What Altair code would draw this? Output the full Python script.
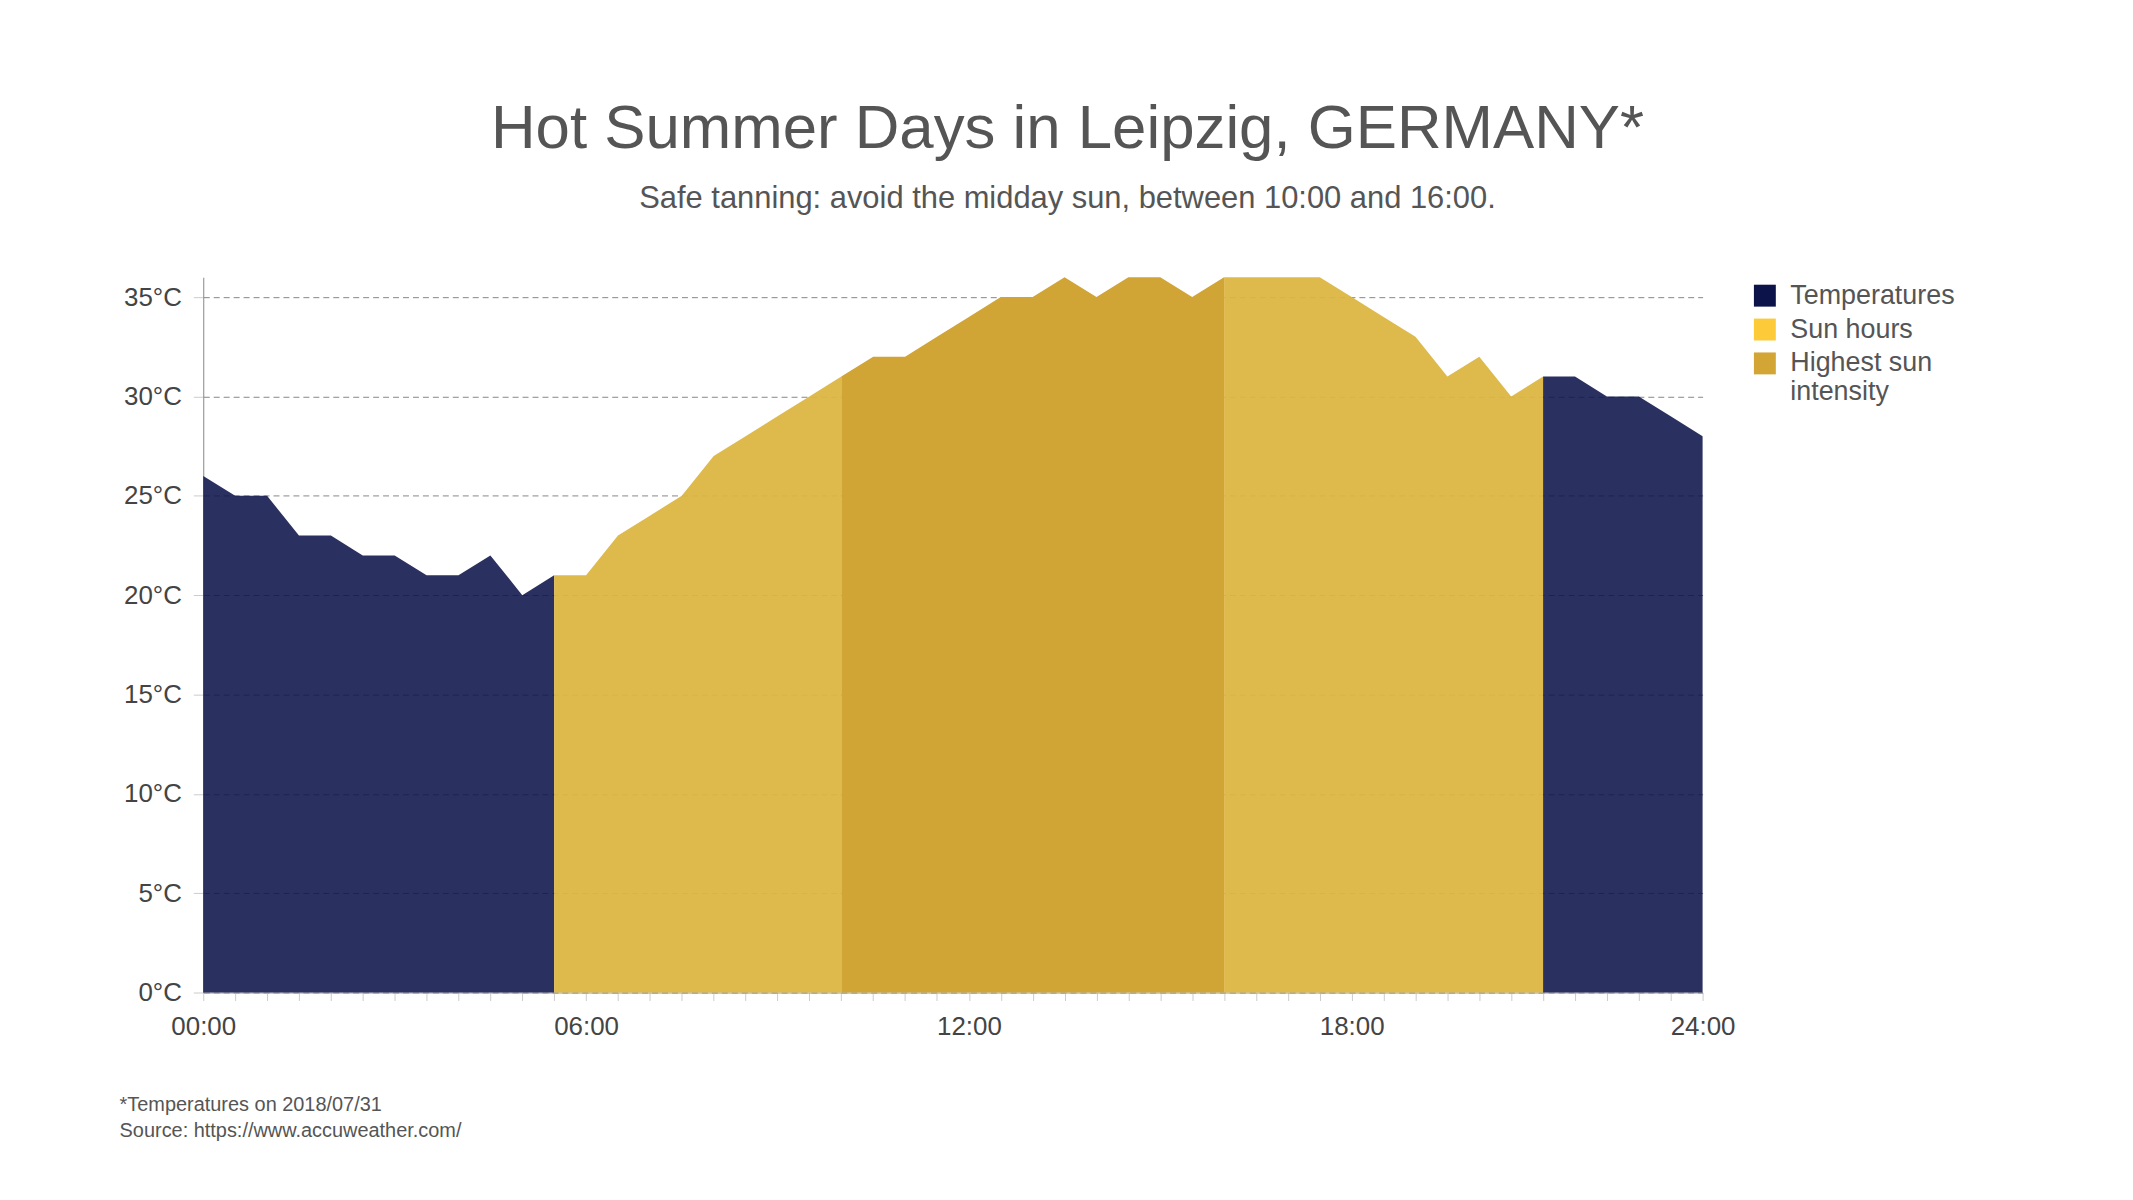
import altair as alt
import pandas as pd

# temperature every 30 minutes, 00:00 .. 23:30
hours = [h / 2 for h in range(48)]
temps = [26, 25, 25, 23, 23, 22, 22, 21, 21, 22, 20, 21,
         21, 23, 24, 25, 27, 28, 29, 30, 31, 32, 32, 33,
         34, 35, 35, 36, 35, 36, 36, 35, 36, 36, 36, 36,
         35, 34, 33, 31, 32, 30, 31, 31, 30, 30, 29, 28]

# coloured bands of the day
segment_series = ['Temperatures', 'Sun hours', 'Highest sun intensity', 'Sun hours', 'Temperatures']
segment_start = [0, 5.5, 10, 16, 21]
segment_end = [5.5, 10, 16, 21, 23.5]

series_names = ['Temperatures', 'Sun hours', 'Highest sun intensity']
area_colors = ['#0c134a', '#dcb541', '#d0a535']
legend_colors = ['#0c134a', '#fdcb3a', '#d3a535']

footnotes = ['*Temperatures on 2018/07/31', 'Source: https://www.accuweather.com/']

rows = []
for i, (name, start, end) in enumerate(zip(segment_series, segment_start, segment_end)):
    for h, t in zip(hours, temps):
        if start <= h <= end:
            rows.append({'segment': i, 'series': name, 'hour': h, 'temp': t})
df = pd.DataFrame(rows)

x_label = ("datum.value == 23.5 ? '24:00' : (datum.value % 6 == 0 ? "
           "(datum.value < 10 ? '0' : '') + datum.value + ':00' : '')")

areas = alt.Chart(df).mark_area(interpolate='linear').encode(
    x=alt.X('hour:Q',
            scale=alt.Scale(domain=[0, 23.5], nice=False, zero=False),
            axis=alt.Axis(values=hours, labelExpr=x_label, title=None, grid=False,
                          labelOverlap=False, labelFlush=False, labelFontSize=26,
                          labelColor='#444', labelPadding=13, tickSize=8,
                          tickColor='#cccccc', domainColor='#999999')),
    y=alt.Y('temp:Q', stack=None,
            scale=alt.Scale(domain=[0, 36], nice=False),
            axis=alt.Axis(values=[0, 5, 10, 15, 20, 25, 30, 35], labelExpr="datum.value + '°C'",
                          title=None, grid=True, gridDash=[6, 4], gridColor='#888888',
                          labelFontSize=26, labelColor='#444', labelPadding=12,
                          tickSize=10, tickColor='#cccccc', domainColor='#888888')),
    color=alt.Color('series:N', scale=alt.Scale(domain=series_names, range=area_colors), legend=None),
    opacity=alt.Opacity('series:N', scale=alt.Scale(domain=series_names, range=[0.88, 1, 1]), legend=None),
    detail='segment:N',
)

# invisible layer that only carries the legend
legend_layer = alt.Chart(pd.DataFrame({'legend': series_names})).mark_square(size=0).encode(
    x=alt.value(0),
    y=alt.value(0),
    color=alt.Color('legend:N',
                    scale=alt.Scale(domain=series_names, range=legend_colors),
                    legend=alt.Legend(title=None, orient='none', legendX=1554, legendY=5, padding=0,
                                      symbolType='square', symbolSize=484, symbolOpacity=1,
                                      symbolStrokeWidth=0, labelFontSize=27, labelColor='#555',
                                      labelLimit=400, labelOffset=12, rowPadding=6,
                                      labelExpr="datum.label == 'Highest sun intensity' ? ['Highest sun', 'intensity'] : datum.label")),
)

footer = alt.Chart(pd.DataFrame({'a': [0]})).mark_text(
    align='left', baseline='top', fontSize=20, color='#555', lineHeight=26
).encode(
    x=alt.value(-84),
    y=alt.value(821),
    text=alt.value(footnotes),
)

chart = alt.layer(areas, legend_layer, footer).resolve_scale(
    color='independent'
).properties(
    width=1505,
    height=718,
    autosize='none',
    padding={'left': 196, 'top': 268, 'right': 424, 'bottom': 206},
    background='white',
    title=alt.Title(text='Hot Summer Days in Leipzig, GERMANY*',
                    subtitle='Safe tanning: avoid the midday sun, between 10:00 and 16:00.',
                    fontSize=62, subtitleFontSize=31, color='#555', subtitleColor='#555',
                    fontWeight='normal', anchor='middle', frame='group', dx=115,
                    offset=62, subtitlePadding=24),
).configure(
    font='Liberation Sans'
).configure_view(
    stroke=None
)

chart.save("out.html", embed_options={"renderer": "svg", "actions": False})
